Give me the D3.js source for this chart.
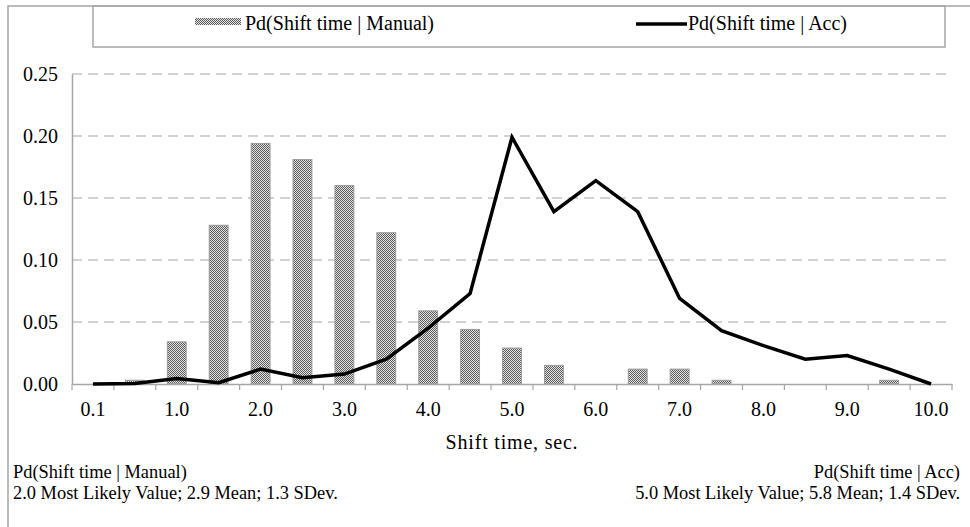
<!DOCTYPE html>
<html>
<head>
<meta charset="utf-8">
<script src="https://cdnjs.cloudflare.com/ajax/libs/d3/7.8.5/d3.min.js"></script>
<style>
    body { margin:0; background:#fff; }
    .grid line { stroke:#a6a6a6; stroke-dasharray:10,6; }
    .frame { fill:none; stroke:#a6a6a6; stroke-width:1.5px; }
</style>
</head>
<body>
<div id="chart"></div>
<script>
/* values */
var categories = ['0.1','0.5','1.0','1.5','2.0','2.5','3.0','3.5','4.0','4.5','5.0',
                  '5.5','6.0','6.5','7.0','7.5','8.0','8.5','9.0','9.5','10.0'];
var manual = [0, 0.003, 0.034, 0.128, 0.194, 0.181, 0.160, 0.122, 0.059, 0.044, 0.029,
              0.015, 0, 0.012, 0.012, 0.003, 0, 0, 0, 0.003, 0];
var acc = [0, 0.0005, 0.0045, 0.001, 0.012, 0.005, 0.008, 0.020, 0.045, 0.073, 0.199,
           0.139, 0.164, 0.139, 0.069, 0.043, 0.031, 0.020, 0.023, 0.012, 0];
var yTicks = [0, 0.05, 0.10, 0.15, 0.20, 0.25];
var xLabels = ['0.1','1.0','2.0','3.0','4.0','5.0','6.0','7.0','8.0','9.0','10.0'];
var seriesNames = ['Pd(Shift time | Manual)', 'Pd(Shift time | Acc)'];
var footLeft = ['Pd(Shift time | Manual)', '2.0 Most Likely Value; 2.9 Mean; 1.3 SDev.'];
var footRight = ['Pd(Shift time | Acc)', '5.0 Most Likely Value; 5.8 Mean; 1.4 SDev.'];

var W = 970, H = 527;
var margin = {t:74, r:18, b:143, l:72};
var serif = 'Liberation Serif, Times New Roman, serif';

var svg = d3.select('#chart').append('svg')
    .attr('width', W)
    .attr('height', H)
    .style('display','block')
    .attr('font-family', serif);

// dithered fill for the bars
var pat = svg.append('defs').append('pattern')
    .attr('id','dots')
    .attr('width',2).attr('height',2)
    .attr('patternUnits','userSpaceOnUse');
pat.append('rect').attr('width',2).attr('height',2).attr('fill','#e4e4e4');
pat.append('rect').attr('width',1).attr('height',1).attr('fill','#5a5a5a');
pat.append('rect').attr('x',1).attr('y',1).attr('width',1).attr('height',1).attr('fill','#5a5a5a');

// outer frame + legend box
svg.append('rect').attr('class','frame')
    .attr('x',8).attr('y',6).attr('width',W+20).attr('height',H+20);
svg.append('rect').attr('class','frame')
    .attr('x',93).attr('y',6).attr('width',852).attr('height',41);

var x = d3.scaleBand()
    .domain(categories)
    .range([margin.l, W - margin.r])
    .padding(0);
var y = d3.scaleLinear()
    .domain([0, 0.25])
    .range([H - margin.b, margin.t]);

// gridlines
svg.append('g').attr('class','grid')
    .selectAll('line')
    .data(yTicks.slice(1))
    .enter().append('line')
    .attr('x1', margin.l).attr('x2', W - margin.r)
    .attr('y1', function(d){ return y(d); })
    .attr('y2', function(d){ return y(d); });

// bars (skip empty categories)
var barData = manual.map(function(v,i){ return {c:categories[i], v:v}; })
    .filter(function(d){ return d.v > 0; });
var barW = x.bandwidth()*0.45;
svg.append('g')
    .selectAll('rect')
    .data(barData)
    .enter().append('rect')
    .attr('x', function(d){ return x(d.c) + (x.bandwidth()-barW)/2; })
    .attr('y', function(d){ return y(d.v); })
    .attr('width', barW)
    .attr('height', function(d){ return y(0) - y(d.v); })
    .attr('fill','url(#dots)')
    .attr('stroke','#9a9a9a')
    .attr('stroke-width',1);

// axes
var yAxis = d3.axisLeft(y)
    .tickValues(yTicks)
    .tickSize(0)
    .tickPadding(14)
    .tickFormat(d3.format('.2f'));
var gy = svg.append('g')
    .attr('transform','translate('+margin.l+',0)')
    .call(yAxis);
gy.select('.domain').attr('stroke','#a6a6a6').attr('stroke-width',1.5);

var xAxis = d3.axisBottom(x)
    .tickSize(0)
    .tickPadding(18)
    .tickFormat(function(d){ return xLabels.indexOf(d) >= 0 ? d : ''; });
var gx = svg.append('g')
    .attr('transform','translate(0,'+y(0)+')')
    .call(xAxis);
gx.select('.domain').attr('stroke','#a6a6a6').attr('stroke-width',1.5);

// boundary ticks between categories
var bounds = categories.map(function(c){ return x(c); }).concat([W - margin.r]);
gx.selectAll('.bound')
    .data(bounds)
    .enter().append('line')
    .attr('class','bound')
    .attr('x1', function(d){ return d; }).attr('x2', function(d){ return d; })
    .attr('y1', 0).attr('y2', 6)
    .attr('stroke','#a6a6a6').attr('stroke-width',1.2);

svg.selectAll('.tick text')
    .attr('font-family', serif)
    .attr('font-size','20px')
    .attr('fill','#000');

// line series
var line = d3.line()
    .x(function(d,i){ return x(categories[i]) + x.bandwidth()/2; })
    .y(function(d){ return y(d); });
svg.append('path')
    .datum(acc)
    .attr('d', line)
    .attr('fill','none')
    .attr('stroke','#000')
    .attr('stroke-width',3.5)
    .attr('stroke-linejoin','miter');

// axis title
svg.append('text')
    .attr('x', (margin.l + W - margin.r)/2)
    .attr('y', 449)
    .attr('text-anchor','middle')
    .attr('font-family', serif)
    .attr('font-size','20px')
    .attr('letter-spacing','0.8px')
    .text('Shift time, sec.');

// legend
var leg = svg.append('g').attr('font-family', serif).attr('font-size','20px');
leg.append('rect')
    .attr('x',195).attr('y',18).attr('width',46).attr('height',7)
    .attr('fill','url(#dots)');
leg.append('text').attr('x',245).attr('y',30).text(seriesNames[0]);
leg.append('line')
    .attr('x1',636).attr('x2',687).attr('y1',24).attr('y2',24)
    .attr('stroke','#000').attr('stroke-width',3.5);
leg.append('text').attr('x',688).attr('y',30).text(seriesNames[1]);

// footer stats
var foot = svg.append('g').attr('font-family', serif).attr('font-size','18.4px');
foot.selectAll('.fl')
    .data(footLeft)
    .enter().append('text')
    .attr('class','fl')
    .attr('x',13)
    .attr('y', function(d,i){ return 478 + i*21; })
    .text(function(d){ return d; });
foot.selectAll('.fr')
    .data(footRight)
    .enter().append('text')
    .attr('class','fr')
    .attr('x',960)
    .attr('y', function(d,i){ return 478 + i*21; })
    .attr('text-anchor','end')
    .text(function(d){ return d; });
</script>
</body>
</html>
